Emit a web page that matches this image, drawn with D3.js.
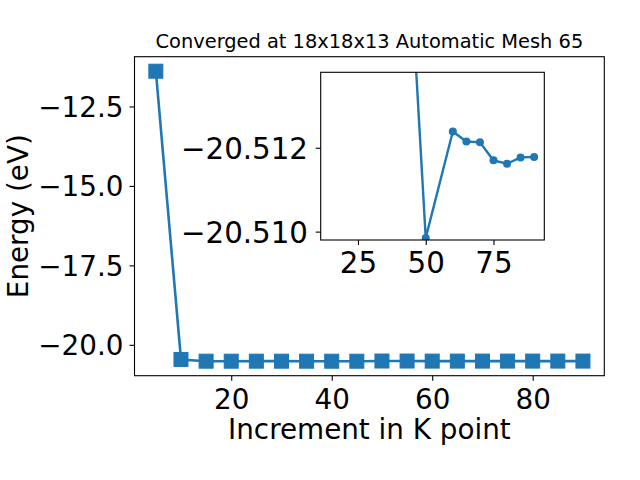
<!DOCTYPE html>
<html><head><meta charset="utf-8">
<script src="https://cdn.jsdelivr.net/npm/d3@7"></script>
<style>
body{margin:0;background:#fff;}
text{font-family:"DejaVu Sans",sans-serif;fill:#000;}
</style></head>
<body><svg id="c" width="640" height="480"></svg>
<script>
// Main chart data
const kPoints = [5,10,15,20,25,30,35,40,45,50,55,60,65,70,75,80,85,90];
const energies = [-11.39,-20.46,-20.5150,-20.5152,-20.5145,-20.5146,-20.5153,-20.5154,-20.5155,-20.50985,-20.5101,-20.51239,-20.51215,-20.51213,-20.51170,-20.51162,-20.51177,-20.51178];
// Inset data
const insetK = [15,20,25,30,35,40,45,50,60,65,70,75,80,85,90];
const insetE = [-20.5150,-20.5152,-20.5145,-20.5146,-20.5153,-20.5154,-20.5155,-20.50985,-20.51239,-20.51215,-20.51213,-20.51170,-20.51162,-20.51177,-20.51178];
const insetYLim = [-20.5098,-20.5138];
const mainXTicks = [20,40,60,80];
const mainYTicks = [-12.5,-15.0,-17.5,-20.0];
const insetXTicks = [25,50,75];
const insetYTicks = [-20.512,-20.510];
const title = "Converged at 18x18x13 Automatic Mesh 65";
const xLabel = "Increment in K point";
const yLabel = "Energy (eV)";

const color = "#1f77b4";
const svg = d3.select("#c");
const minus = s => s.replace("-", "\u2212");

function pad(ext, f=0.05){const r=ext[1]-ext[0];return [ext[0]-r*f, ext[1]+r*f];}

// main axes
const M = {l:134.5, r:604.3, t:56.7, b:375.7};
const x = d3.scaleLinear().domain(pad(d3.extent(kPoints))).range([M.l, M.r]);
const y = d3.scaleLinear().domain(pad(d3.extent(energies))).range([M.b, M.t]);

const g = svg.append("g");
g.append("defs").append("clipPath").attr("id","mclip").append("rect")
  .attr("x",M.l).attr("y",M.t).attr("width",M.r-M.l).attr("height",M.b-M.t);

const pts = kPoints.map((k,i)=>[k,energies[i]]);
const line = d3.line().x(d=>x(d[0])).y(d=>y(d[1]));
const pg = g.append("g").attr("clip-path","url(#mclip)");
pg.append("path").attr("d",line(pts)).attr("fill","none").attr("stroke",color).attr("stroke-width",2.6);
const ms = 14;
pg.selectAll("rect.m").data(pts).join("rect").attr("class","m")
  .attr("x",d=>x(d[0])-ms/2).attr("y",d=>y(d[1])-ms/2).attr("width",ms).attr("height",ms)
  .attr("fill",color).attr("stroke",color).attr("stroke-width",1);

// frame
g.append("rect").attr("x",M.l).attr("y",M.t).attr("width",M.r-M.l).attr("height",M.b-M.t)
  .attr("fill","none").attr("stroke","#000").attr("stroke-width",1.1);

// axes ticks
const xa = d3.axisBottom(x).tickValues(mainXTicks).tickSize(5).tickPadding(0).tickFormat(d3.format("d"));
const xg = g.append("g").attr("transform",`translate(0,${M.b})`).call(xa);
xg.select(".domain").remove();
xg.selectAll("text").attr("font-size","27.8px").attr("dy",null).attr("y",33.3);
xg.selectAll("line").attr("stroke","#000").attr("stroke-width",1.1);

const ya = d3.axisLeft(y).tickValues(mainYTicks).tickSize(5).tickPadding(0).tickFormat(d=>minus(d3.format(".1f")(d)));
const yg = g.append("g").attr("transform",`translate(${M.l},0)`).call(ya);
yg.select(".domain").remove();
yg.selectAll("text").attr("font-size","27.8px").attr("dy",null).attr("x",-11).attr("y",10);
yg.selectAll("line").attr("stroke","#000").attr("stroke-width",1.1);

svg.append("text").attr("x",(M.l+M.r)/2).attr("y",438.5).attr("text-anchor","middle")
  .attr("font-size","27.8px").text(xLabel);
svg.append("text").attr("transform",`translate(28,${(M.t+M.b)/2}) rotate(-90)`).attr("text-anchor","middle")
  .attr("font-size","27.8px").text(yLabel);
svg.append("text").attr("x",(M.l+M.r)/2).attr("y",48.3).attr("text-anchor","middle")
  .attr("font-size","19.4px").text(title);

// inset
const I = {l:320.7, r:544.3, t:72.3, b:240};
const xi = d3.scaleLinear().domain(pad(d3.extent(insetK))).range([I.l, I.r]);
const yi = d3.scaleLinear().domain(insetYLim).range([I.b, I.t]);
const ig = svg.append("g");
ig.append("rect").attr("x",I.l).attr("y",I.t).attr("width",I.r-I.l).attr("height",I.b-I.t)
  .attr("fill","#fff");
ig.append("defs").append("clipPath").attr("id","iclip").append("rect")
  .attr("x",I.l).attr("y",I.t).attr("width",I.r-I.l).attr("height",I.b-I.t);
const ipts = insetK.map((k,i)=>[k,insetE[i]]);
const iline = d3.line().x(d=>xi(d[0])).y(d=>yi(d[1]));
const ipg = ig.append("g").attr("clip-path","url(#iclip)");
ipg.append("path").attr("d",iline(ipts)).attr("fill","none").attr("stroke",color).attr("stroke-width",2.4);
ipg.selectAll("circle").data(ipts).join("circle")
  .attr("cx",d=>xi(d[0])).attr("cy",d=>yi(d[1])).attr("r",4).attr("fill",color);
ig.append("rect").attr("x",I.l).attr("y",I.t).attr("width",I.r-I.l).attr("height",I.b-I.t)
  .attr("fill","none").attr("stroke","#000").attr("stroke-width",1.1);

const insetFont = "29.3px";
const xia = d3.axisBottom(xi).tickValues(insetXTicks).tickSize(5).tickPadding(0).tickFormat(d3.format("d"));
const xig = ig.append("g").attr("transform",`translate(0,${I.b})`).call(xia);
xig.select(".domain").remove();
xig.selectAll("text").attr("font-size",insetFont).attr("dy",null).attr("y",33.3);
xig.selectAll("line").attr("stroke","#000").attr("stroke-width",1.1);

const yia = d3.axisLeft(yi).tickValues(insetYTicks).tickSize(5).tickPadding(0).tickFormat(d=>minus(d3.format(".3f")(d)));
const yig = ig.append("g").attr("transform",`translate(${I.l},0)`).call(yia);
yig.select(".domain").remove();
yig.selectAll("text").attr("font-size",insetFont).attr("dy",null).attr("x",-12.7).attr("y",11);
yig.selectAll("line").attr("stroke","#000").attr("stroke-width",1.1);
</script></body></html>
